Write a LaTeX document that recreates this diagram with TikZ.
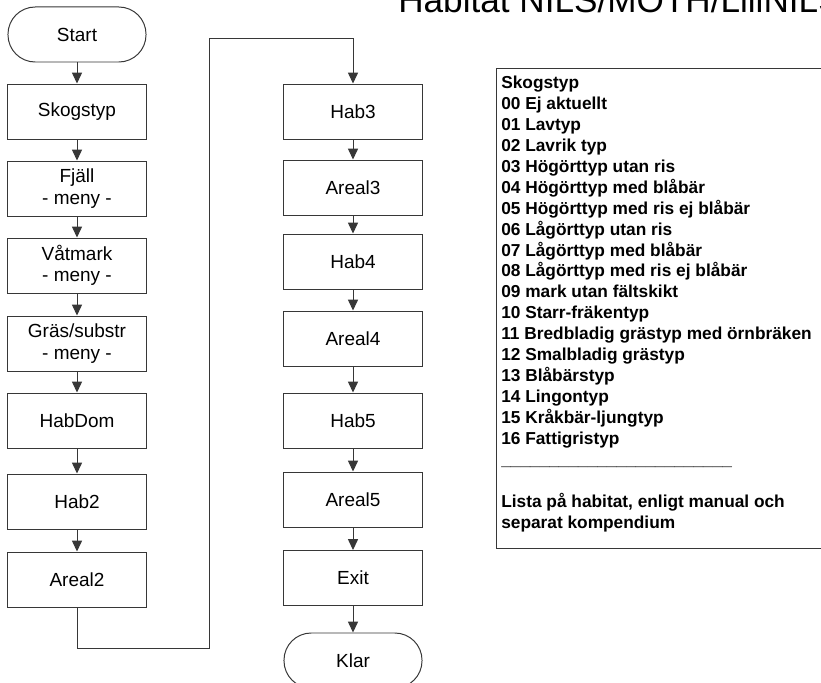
\documentclass[tikz,border=0pt]{standalone}
\usepackage{fontspec}
\setmainfont{Liberation Sans}
\usepackage{tikz}
\usetikzlibrary{arrows.meta, positioning}
\definecolor{boxline}{RGB}{55, 55, 55}
\tikzset{
  stepbox/.style   = {rectangle, draw=boxline, line width=0.7pt, minimum width=3.45cm, minimum height=1.375cm, align=center, inner sep=0pt, font=\fontsize{13.5}{15.2}\selectfont},
  termbox/.style   = {stepbox, rounded corners=0.68cm},
  flowline/.style  = {-{Triangle[width=7.2pt, length=7.8pt]}, line width=0.7pt, boxline},
  legendtext/.style= {anchor=north west, inner sep=0pt, align=left, font=\fontsize{12.3}{14.9}\selectfont\bfseries},
  titletext/.style = {anchor=base west, inner sep=0pt, font=\fontsize{25}{30}\selectfont},
}

\begin{document}
\begin{tikzpicture}[x=0.025cm, y=-0.025cm]
  \clip (0,0) rectangle (821,683);
  \fill[white] (0,0) rectangle (821,683);

  \node[titletext] (title) at (398,13) {Habitat NILS/MOTH/LillNILS};

  % left column
  \node[termbox] (start)    at (77,34.5)  {Start};
  \node[stepbox] (skogstyp) at (77,111.5) {Skogstyp};
  \node[stepbox] (fjall)    at (77,188.5) {Fjäll\\- meny -};
  \node[stepbox] (vatmark)  at (77,265.5) {Våtmark\\- meny -};
  \node[stepbox] (gras)     at (77,343.5) {Gräs/substr\\- meny -};
  \node[stepbox] (habdom)   at (77,420.5) {HabDom};
  \node[stepbox] (hab2)     at (77,501.5) {Hab2};
  \node[stepbox] (areal2)   at (77,579.5) {Areal2};

  % right column
  \node[stepbox] (hab3)     at (353,111.5) {Hab3};
  \node[stepbox] (areal3)   at (353,187.5) {Areal3};
  \node[stepbox] (hab4)     at (353,261.5) {Hab4};
  \node[stepbox] (areal4)   at (353,338.5) {Areal4};
  \node[stepbox] (hab5)     at (353,420.5) {Hab5};
  \node[stepbox] (areal5)   at (353,499.5) {Areal5};
  \node[stepbox] (exit)     at (353,578)   {Exit};
  \node[termbox] (klar)     at (353,660.5) {Klar};

  \draw[flowline] (start) -- (skogstyp);
  \draw[flowline] (skogstyp) -- (fjall);
  \draw[flowline] (fjall) -- (vatmark);
  \draw[flowline] (vatmark) -- (gras);
  \draw[flowline] (gras) -- (habdom);
  \draw[flowline] (habdom) -- (hab2);
  \draw[flowline] (hab2) -- (areal2);

  \coordinate (bendlow)  at (209,648);
  \coordinate (bendhigh) at (209,38);
  \draw[flowline] (areal2.south) |- (bendlow) -- (bendhigh) -| (hab3.north);

  \draw[flowline] (hab3) -- (areal3);
  \draw[flowline] (areal3) -- (hab4);
  \draw[flowline] (hab4) -- (areal4);
  \draw[flowline] (areal4) -- (hab5);
  \draw[flowline] (hab5) -- (areal5);
  \draw[flowline] (areal5) -- (exit);
  \draw[flowline] (exit) -- (klar);

  % list of codes
  \draw[boxline, line width=0.7pt] (496,68) rectangle (840,548);
  \node[legendtext] (codes) at (501,75.6) {Skogstyp\\
    00 Ej aktuellt\\
    01 Lavtyp\\
    02 Lavrik typ\\
    03 Högörttyp utan ris\\
    04 Högörttyp med blåbär\\
    05 Högörttyp med ris ej blåbär\\
    06 Lågörttyp utan ris\\
    07 Lågörttyp med blåbär\\
    08 Lågörttyp med ris ej blåbär\\
    09 mark utan fältskikt\\
    10 Starr-fräkentyp\\
    11 Bredbladig grästyp med örnbräken\\
    12 Smalbladig grästyp\\
    13 Blåbärstyp\\
    14 Lingontyp\\
    15 Kråkbär-ljungtyp\\
    16 Fattigristyp\\
    \_\_\_\_\_\_\_\_\_\_\_\_\_\_\_\_\_\_\_\_\_\_\_\_\\
    ~\\
    Lista på habitat, enligt manual och\\
    separat kompendium};
\end{tikzpicture}
\end{document}
